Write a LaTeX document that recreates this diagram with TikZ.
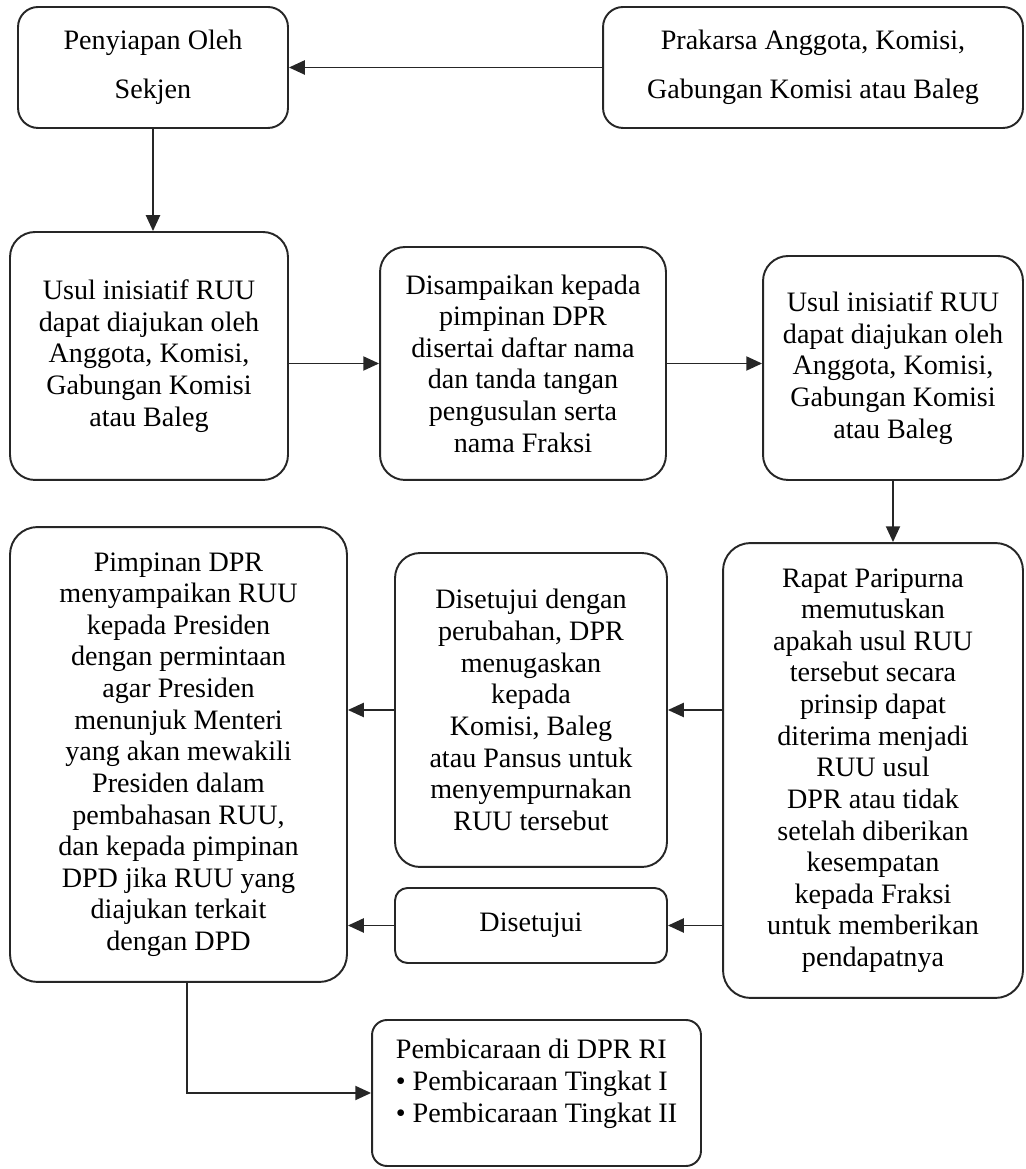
\documentclass[tikz,border=0pt]{standalone}
\usepackage{fontspec}
\setmainfont{Liberation Serif}
\usepackage{tikz}
\usetikzlibrary{arrows.meta,positioning,calc}

\begin{document}
\begin{tikzpicture}[x=0.02cm,y=0.02cm,
  kotak/.style={draw=black!85, line width=1.1pt, rounded corners=0.5cm, align=center, inner sep=0pt, font=\fontsize{16}{18}\selectfont},
  panah/.style={draw=black!85, line width=1.1pt, -{Triangle[length=9pt,width=8pt]}}]
  \useasboundingbox (0,0) rectangle (1025,1169); % 画像の大きさ
  \node[kotak, rounded corners=0.4cm, minimum width=5.4cm, minimum height=2.42cm, font=\fontsize{16}{28}\selectfont] (sekjen) at (153,1101.5) {Penyiapan Oleh\\Sekjen}; % 左上の箱
  \node[kotak, rounded corners=0.4cm, minimum width=8.4cm, minimum height=2.42cm, font=\fontsize{16}{28}\selectfont] (prakarsa) at (813,1101.5) {Prakarsa Anggota, Komisi,\\Gabungan Komisi atau Baleg}; % 右上の箱
  \node[kotak, minimum width=5.56cm, minimum height=4.96cm] (usul1) at (149,813) {Usul inisiatif RUU\\dapat diajukan oleh\\Anggota, Komisi,\\Gabungan Komisi\\atau Baleg}; % 2段目左
  \node[kotak, minimum width=5.72cm, minimum height=4.66cm] (sampai) at (523,805.5) {Disampaikan kepada\\pimpinan DPR\\disertai daftar nama\\dan tanda tangan\\pengusulan serta\\nama Fraksi}; % 2段目中央
  \node[kotak, minimum width=5.2cm, minimum height=4.48cm] (usul2) at (893,801) {Usul inisiatif RUU\\dapat diajukan oleh\\Anggota, Komisi,\\Gabungan Komisi\\atau Baleg}; % 2段目右
  \node[kotak, rounded corners=0.55cm, minimum width=6cm, minimum height=9.1cm] (rapat) at (873,398.5) {Rapat Paripurna\\memutuskan\\apakah usul RUU\\tersebut secara\\prinsip dapat\\diterima menjadi\\RUU usul\\DPR atau tidak\\setelah diberikan\\kesempatan\\kepada Fraksi\\untuk memberikan\\pendapatnya}; % 3段目右
  \node[kotak, minimum width=5.44cm, minimum height=6.28cm] (ubah) at (531,459) {Disetujui dengan\\perubahan, DPR\\menugaskan\\kepada\\Komisi, Baleg\\atau Pansus untuk\\menyempurnakan\\RUU tersebut}; % 3段目中央上
  \node[kotak, rounded corners=0.25cm, minimum width=5.44cm, minimum height=1.5cm] (setuju) at (531,243.5) {Disetujui}; % 3段目中央下
  \node[kotak, rounded corners=0.55cm, minimum width=6.74cm, minimum height=9.1cm] (pimpinan) at (178.5,414.5) {Pimpinan DPR\\menyampaikan RUU\\kepada Presiden\\dengan permintaan\\agar Presiden\\menunjuk Menteri\\yang akan mewakili\\Presiden dalam\\pembahasan RUU,\\dan kepada pimpinan\\DPD jika RUU yang\\diajukan terkait\\dengan DPD}; % 3段目左
  \node[kotak, rounded corners=0.3cm, align=left, minimum width=6.58cm, minimum height=2.92cm] (bicara) at (536.5,76) {Pembicaraan di DPR RI\\\textbullet{} Pembicaraan Tingkat I\\\textbullet{} Pembicaraan Tingkat II\\[-4pt]\mbox{}}; % 一番下の箱
  \draw[panah] (prakarsa.west) -- (sekjen.east); % 右上から左上へ
  \draw[panah] (sekjen.south) -- (sekjen.south |- usul1.north); % 左上から下へ
  \draw[panah] (usul1.east |- sampai.west) -- (sampai.west); % 左から中央へ
  \draw[panah] (sampai.east) -- (sampai.east -| usul2.west); % 中央から右へ
  \draw[panah] (usul2.south) -- (usul2.south |- rapat.north); % 右から下へ
  \draw[panah] (rapat.west |- ubah.east) -- (ubah.east); % 本会議から修正へ
  \draw[panah] (ubah.west) -- (ubah.west -| pimpinan.east); % 修正から議長へ
  \draw[panah] (rapat.west |- setuju.east) -- (setuju.east); % 本会議から承認へ
  \draw[panah] (setuju.west) -- (setuju.west -| pimpinan.east); % 承認から議長へ
  \draw[panah] ([xshift=0.17cm]pimpinan.south) |- (bicara.west); % 議長から審議へ
\end{tikzpicture}
\end{document}
